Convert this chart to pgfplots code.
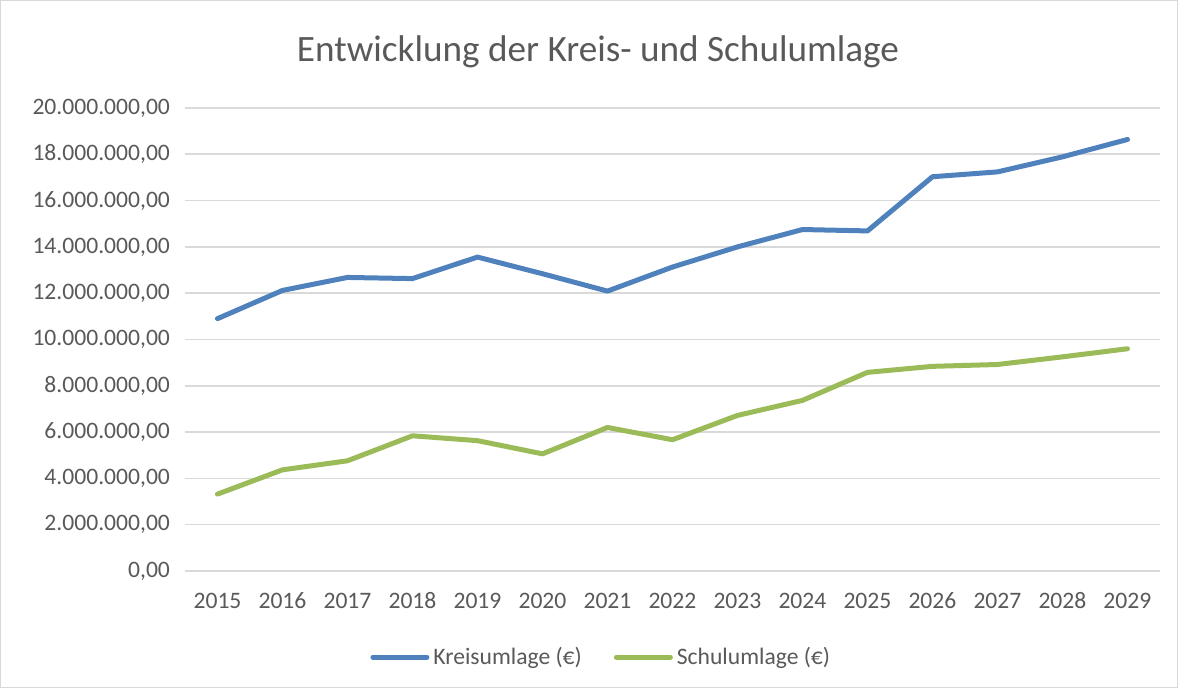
\documentclass[border=0pt]{standalone}
\usepackage{pgfplots}
\pgfplotsset{compat=1.18}
\usepackage{fontspec}
\setmainfont{Carlito}
\definecolor{txt}{HTML}{595959}
\definecolor{grd}{HTML}{D9D9D9}
\definecolor{kblue}{HTML}{4F81BD}
\definecolor{sgreen}{HTML}{9BBB59}
\begin{document}
\begin{tikzpicture}
\draw[draw=grd, line width=0.6pt] (0.3pt,0.3pt) rectangle (588.7pt,343.7pt);
\node[text=txt, font=\fontsize{18.6}{22}\selectfont] at (299pt,318pt) {Entwicklung der Kreis- und Schulumlage};
\begin{axis}[
  at={(92.5pt,58.5pt)}, anchor=south west,
  scale only axis, width=487.5pt, height=231.5pt,
  xmin=2014.5, xmax=2029.5, ymin=0, ymax=20000000,
  axis line style={draw=none},
  ymajorgrids, grid style={grd, line width=0.8pt},
  xtick={2015,...,2029},
  xticklabels={2015,2016,2017,2018,2019,2020,2021,2022,2023,2024,2025,2026,2027,2028,2029},
  ytick={0,2000000,4000000,6000000,8000000,10000000,12000000,14000000,16000000,18000000,20000000},
  yticklabels={{0,00},{2.000.000,00},{4.000.000,00},{6.000.000,00},{8.000.000,00},{10.000.000,00},{12.000.000,00},{14.000.000,00},{16.000.000,00},{18.000.000,00},{20.000.000,00}},
  scaled y ticks=false,
  major tick length=0pt,
  ticklabel style={text=txt, font=\fontsize{11.8}{14}\selectfont},
  yticklabel style={xshift=-4pt},
  xticklabel style={yshift=-7pt, text height=8.2pt, text depth=0pt},
  legend columns=2,
  legend style={draw=none, fill=none, at={(0.428,-0.186)}, anchor=center,
    font=\fontsize{11.8}{14}\selectfont, text=txt,
    /tikz/every even column/.append style={column sep=14pt}},
  legend image code/.code={\draw[#1, line cap=round] (0pt,0pt) -- (27pt,0pt);},
  every axis plot/.append style={line width=2.5pt, line join=round, line cap=round},
]
\addplot[kblue] coordinates {
(2015,10900000) (2016,12120000) (2017,12680000) (2018,12630000) (2019,13560000)
(2020,12840000) (2021,12090000) (2022,13130000) (2023,14000000) (2024,14750000)
(2025,14690000) (2026,17030000) (2027,17240000) (2028,17890000) (2029,18640000)};
\addlegendentry{Kreisumlage (€)}
\addplot[sgreen] coordinates {
(2015,3320000) (2016,4370000) (2017,4760000) (2018,5840000) (2019,5630000)
(2020,5060000) (2021,6200000) (2022,5670000) (2023,6720000) (2024,7370000)
(2025,8580000) (2026,8840000) (2027,8920000) (2028,9250000) (2029,9600000)};
\addlegendentry{Schulumlage (€)}
\end{axis}
\end{tikzpicture}
\end{document}
